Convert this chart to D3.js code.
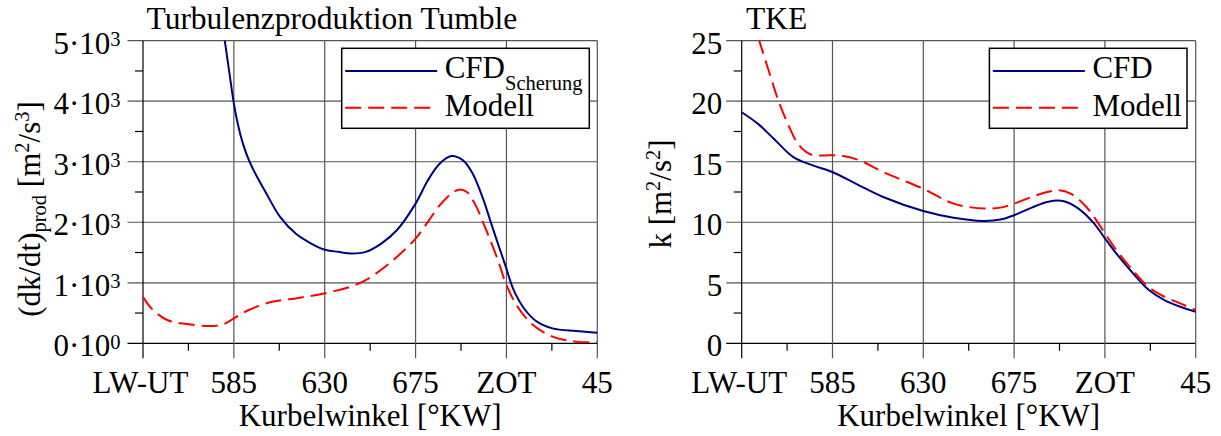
<!DOCTYPE html>
<html>
<head>
<meta charset="utf-8">
<script src="https://cdn.jsdelivr.net/npm/d3@7"></script>
<style>
  html, body { margin: 0; padding: 0; background: #fff; }
  svg { display: block; }
</style>
</head>
<body>
<svg id="chart" width="1221" height="436" font-family="'Liberation Serif', 'Times New Roman', Times, serif"></svg>
<script>
// ---------- data ----------
const xTickVals = [540, 585, 630, 675, 720, 765];
const xTickLabels = ["LW-UT", "585", "630", "675", "ZOT", "45"];
const xMinorVals = [562.5, 607.5, 652.5, 697.5, 742.5];

const prodTickVals = [0, 1000, 2000, 3000, 4000, 5000];
const prodTickMant = ["0", "1", "2", "3", "4", "5"];
const prodTickExp = ["0", "3", "3", "3", "3", "3"];
const prodMinorVals = [500, 1500, 2500, 3500, 4500];

const tkeTickVals = [0, 5, 10, 15, 20, 25];
const tkeMinorVals = [2.5, 7.5, 12.5, 17.5, 22.5];

const prodCfdAngle = [577, 580.5, 583, 585, 587, 589.5, 592.4, 596, 600.2, 607.9, 615.6, 623.3, 629.7, 636.8, 643.5, 650.3, 658, 665.7, 675, 681.1, 686.9, 692.7, 698.5, 703.3, 708.1, 713, 719.7, 723.6, 729.3, 735.1, 742.8, 754.4, 765];
const prodCfd = [5850, 5000, 4420, 3960, 3620, 3300, 3030, 2780, 2530, 2088, 1813, 1648, 1550, 1511, 1484, 1511, 1648, 1868, 2308, 2693, 2967, 3094, 3022, 2802, 2418, 1923, 1264, 879, 550, 357, 247, 203, 176];

const prodModAngle = [540, 544.2, 552, 561.6, 575.1, 580.9, 585, 592.4, 604, 615.6, 629.7, 642.6, 650.3, 659.9, 667.6, 675, 681.1, 686.9, 692.7, 696.6, 700.4, 704.3, 710, 715.8, 719.7, 725.5, 733.2, 742.8, 754.4, 765];
const prodMod = [769, 577, 385, 319, 286, 330, 412, 550, 687, 742, 824, 934, 1044, 1264, 1484, 1731, 2006, 2280, 2473, 2539, 2500, 2308, 1868, 1374, 989, 604, 302, 110, 27, 16];

const tkeCfdAngle = [540, 548.1, 555.9, 565.6, 575.2, 584.9, 596.5, 610.1, 630, 645, 659.5, 668.2, 675, 683.7, 691.4, 699.2, 706.9, 714.7, 720.1, 726.3, 734, 741.8, 749.5, 757.3, 765];
const tkeCfd = [19.09, 18.13, 16.9, 15.38, 14.7, 14.15, 13.19, 12.09, 10.93, 10.38, 10.11, 10.22, 10.58, 11.21, 11.68, 11.76, 11.13, 9.89, 8.65, 7.28, 5.77, 4.4, 3.57, 3.02, 2.61];

const tkeModAngle = [545, 548.7, 553.9, 558.2, 563.6, 568.5, 574.3, 580.1, 588.8, 598.5, 610.1, 630, 645, 660.4, 668.2, 675, 683.7, 691.4, 697.2, 703, 710.8, 720.1, 726.3, 734, 741.8, 749.5, 757.3, 765];
const tkeMod = [27, 25, 22.25, 20.05, 17.86, 16.35, 15.6, 15.52, 15.52, 15.11, 14.15, 12.77, 11.54, 11.13, 11.21, 11.54, 12.09, 12.5, 12.64, 12.36, 11.26, 9.07, 7.56, 6.0, 4.62, 3.85, 3.3, 2.75];

// ---------- styles ----------
const BLUE = "#000080", RED = "#ff0000";
const GRID = "#555";
const FONT = 31, SUBFONT = 20.5, TITLEFONT = 31.5;
const FAMILY = "'Liberation Serif', 'Times New Roman', Times, serif";

const svg = d3.select("#chart");

function panel(opts) {
  const { left, right, top, bottom, yMax, yTicks, yMinor, yLabelFn, title, titleX,
          series, legend, ytitle, ytitleX, ytitleY, clipId } = opts;
  const x = d3.scaleLinear().domain([540, 765]).range([left, right]);
  const y = d3.scaleLinear().domain([0, yMax]).range([bottom, top]);
  const g = svg.append("g").attr("font-family", FAMILY);

  // gridlines
  g.selectAll("line.hg").data(yTicks).join("line")
    .attr("x1", left - 15.5).attr("x2", right)
    .attr("y1", d => y(d)).attr("y2", d => y(d))
    .attr("stroke", d => d === 0 ? "#000" : GRID).attr("stroke-width", 1.2);
  g.selectAll("line.vg").data(xTickVals).join("line")
    .attr("x1", d => x(d)).attr("x2", d => x(d))
    .attr("y1", top).attr("y2", bottom + 15)
    .attr("stroke", (d, i) => i === 0 ? "#000" : GRID).attr("stroke-width", 1.2);
  // minor ticks
  g.selectAll("line.ym").data(yMinor).join("line")
    .attr("x1", left - 8).attr("x2", left)
    .attr("y1", d => y(d)).attr("y2", d => y(d))
    .attr("stroke", "#000").attr("stroke-width", 1.2);
  g.selectAll("line.xm").data(xMinorVals).join("line")
    .attr("x1", d => x(d)).attr("x2", d => x(d))
    .attr("y1", bottom).attr("y2", bottom + 7.5)
    .attr("stroke", "#000").attr("stroke-width", 1.2);

  // x tick labels
  g.selectAll("text.xl").data(xTickVals).join("text")
    .attr("x", (d, i) => x(d) - (i === 0 ? 2.5 : 0)).attr("y", 393)
    .attr("text-anchor", "middle").attr("font-size", FONT)
    .text((d, i) => xTickLabels[i]);
  // y tick labels
  yLabelFn(g, y, left);

  // x title
  g.append("text").attr("x", (left + right) / 2).attr("y", 426)
    .attr("text-anchor", "middle").attr("font-size", FONT)
    .text("Kurbelwinkel [°KW]");
  // panel title
  g.append("text").attr("x", titleX).attr("y", 29).attr("font-size", TITLEFONT).text(title);
  // y title
  ytitle(g.append("text")
    .attr("transform", `translate(${ytitleX},${ytitleY}) rotate(-90)`)
    .attr("text-anchor", "middle").attr("font-size", FONT));

  // clip
  svg.append("clipPath").attr("id", clipId).append("rect")
    .attr("x", left).attr("y", top).attr("width", right - left).attr("height", bottom - top);

  const line = d3.line().x(d => x(d[0])).y(d => y(d[1])).curve(d3.curveCatmullRom.alpha(0.5));
  const cg = g.append("g").attr("clip-path", `url(#${clipId})`);
  series.forEach(s => {
    cg.append("path").datum(d3.zip(s.angle, s.value))
      .attr("d", line).attr("fill", "none")
      .attr("stroke", s.color).attr("stroke-width", 2)
      .attr("stroke-dasharray", s.dash || null);
  });

  // legend
  const lg = g.append("g");
  lg.append("rect").attr("x", legend.x).attr("y", 48.3).attr("width", legend.w).attr("height", 80)
    .attr("fill", "#fff").attr("stroke", "#000").attr("stroke-width", 1.5);
  series.forEach((s, i) => {
    const yy = i === 0 ? 71 : 107.7;
    lg.append("line").attr("x1", legend.x + 3.5).attr("x2", legend.x + 95.5)
      .attr("y1", yy).attr("y2", yy)
      .attr("stroke", s.color).attr("stroke-width", 2)
      .attr("stroke-dasharray", s.dash || null);
    const t = lg.append("text").attr("x", legend.x + 103).attr("y", i === 0 ? 78.3 : 116)
      .attr("font-size", FONT);
    t.append("tspan").text(s.name);
    if (s.sub) t.append("tspan").attr("font-size", SUBFONT).attr("dy", 11.5).text(s.sub);
  });
}

// left panel
panel({
  left: 143, right: 597.3, top: 40.7, bottom: 343.3, yMax: 5000,
  yTicks: prodTickVals, yMinor: prodMinorVals,
  yLabelFn: (g, y, left) => {
    const t = g.selectAll("text.yl").data(prodTickVals).join("text")
      .attr("x", left - 22.5).attr("y", d => y(d) + 12.8)
      .attr("text-anchor", "end").attr("font-size", FONT);
    t.append("tspan").text((d, i) => prodTickMant[i] + "·10");
    t.append("tspan").attr("font-size", SUBFONT).attr("dy", -7.5).text((d, i) => prodTickExp[i]);
  },
  title: "Turbulenzproduktion Tumble", titleX: 146.5,
  ytitle: t => {
    t.append("tspan").text("(dk/dt)");
    t.append("tspan").attr("font-size", SUBFONT).attr("dy", 6).text("prod");
    t.append("tspan").attr("dy", -6).text(" [m");
    t.append("tspan").attr("font-size", SUBFONT).attr("dy", -11).text("2");
    t.append("tspan").attr("dy", 11).text("/s");
    t.append("tspan").attr("font-size", SUBFONT).attr("dy", -11).text("3");
    t.append("tspan").attr("dy", 11).text("]");
  },
  ytitleX: 40, ytitleY: 209, clipId: "clipL",
  series: [
    { name: "CFD", sub: "Scherung", angle: prodCfdAngle, value: prodCfd, color: BLUE },
    { name: "Modell", angle: prodModAngle, value: prodMod, color: RED, dash: "16,7" }
  ],
  legend: { x: 341.7, w: 247.6 }
});

// right panel
panel({
  left: 741.7, right: 1195.7, top: 40.7, bottom: 343.3, yMax: 25,
  yTicks: tkeTickVals, yMinor: tkeMinorVals,
  yLabelFn: (g, y, left) => {
    g.selectAll("text.yl").data(tkeTickVals).join("text")
      .attr("x", left - 19.5).attr("y", d => y(d) + 12.8)
      .attr("text-anchor", "end").attr("font-size", FONT)
      .text(d => d);
  },
  title: "TKE", titleX: 746,
  ytitle: t => {
    t.append("tspan").text("k [m");
    t.append("tspan").attr("font-size", SUBFONT).attr("dy", -11).text("2");
    t.append("tspan").attr("dy", 11).text("/s");
    t.append("tspan").attr("font-size", SUBFONT).attr("dy", -11).text("2");
    t.append("tspan").attr("dy", 11).text("]");
  },
  ytitleX: 671, ytitleY: 194, clipId: "clipR",
  series: [
    { name: "CFD", angle: tkeCfdAngle, value: tkeCfd, color: BLUE },
    { name: "Modell", angle: tkeModAngle, value: tkeMod, color: RED, dash: "16,7" }
  ],
  legend: { x: 989.4, w: 197.6 }
});
</script>
</body>
</html>
